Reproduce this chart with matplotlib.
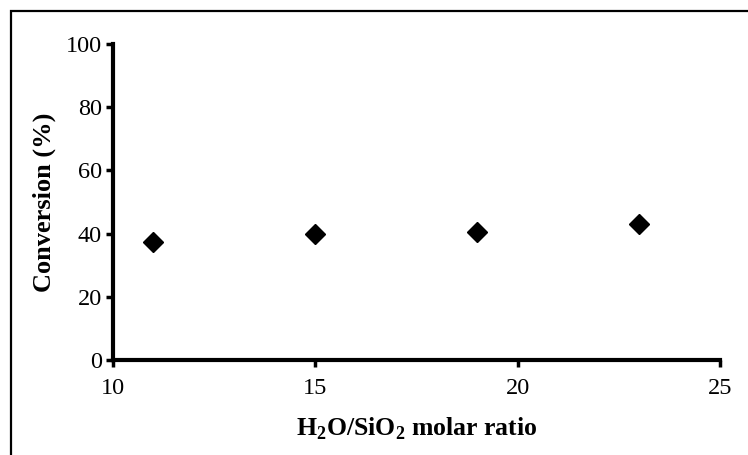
import matplotlib.pyplot as plt
from matplotlib.patches import Rectangle

# data
ratio = [11, 15, 19, 23]
conversion = [37.2, 39.9, 40.5, 43.0]

xticks = [10, 15, 20, 25]
yticks = [0, 20, 40, 60, 80, 100]

plt.rcParams['font.family'] = ['Liberation Serif', 'DejaVu Serif']
plt.rcParams['mathtext.fontset'] = 'custom'
plt.rcParams['mathtext.rm'] = 'Liberation Serif'
plt.rcParams['mathtext.bf'] = 'Liberation Serif:bold'

fig = plt.figure(figsize=(7.48, 4.55), dpi=100)
ax = fig.add_axes([0.151, 0.209, 0.812, 0.694])

# outer frame (only top and left edges fall inside the picture)
fig.patches.append(Rectangle((11 / 748, -0.5), 2.0, 1.5 - 11 / 455,
                             transform=fig.transFigure, fill=False,
                             edgecolor='black', linewidth=1.6))

ax.plot(ratio, conversion, 'D', color='black', markersize=10, clip_on=False)

ax.set_xlim(10, 25)
ax.set_ylim(0, 100)
ax.set_xticks(xticks)
ax.set_yticks(yticks)

for side in ['top', 'right']:
    ax.spines[side].set_visible(False)
for side in ['left', 'bottom']:
    ax.spines[side].set_linewidth(3)

ax.tick_params(width=2.5, length=5, labelsize=17.5)
ax.tick_params(axis='x', pad=8)
ax.tick_params(axis='y', pad=3)

ax.set_xlabel('H$_\\mathbf{2}$O/SiO$_\\mathbf{2}$ molar ratio', fontsize=18.5,
              fontweight='bold', labelpad=12)
ax.set_ylabel('Conversion (%)', fontsize=19, fontweight='bold', labelpad=7)

fig.savefig('out.png', dpi=100)
